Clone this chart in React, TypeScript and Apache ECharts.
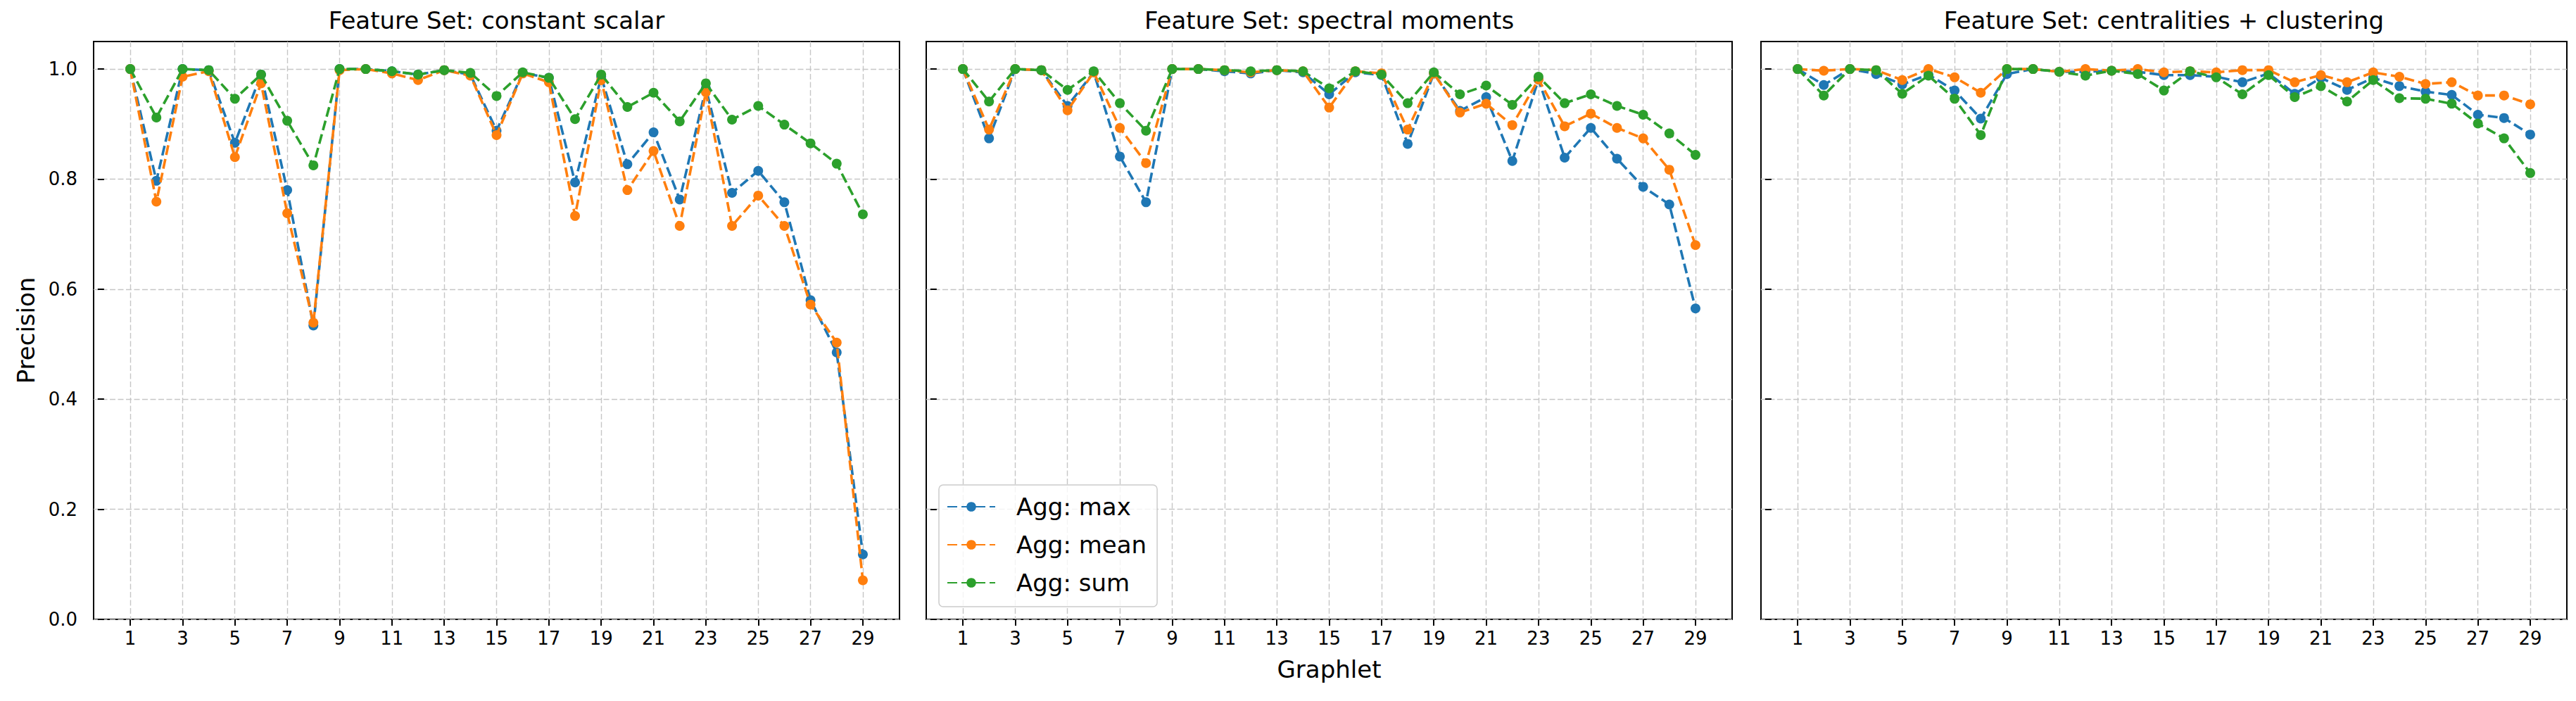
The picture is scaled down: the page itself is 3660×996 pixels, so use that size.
import React, { useEffect, useRef } from "react";
import * as echarts from "echarts";

const graphlets = [1, 2, 3, 4, 5, 6, 7, 8, 9, 10, 11, 12, 13, 14, 15, 16, 17, 18, 19, 20, 21, 22, 23, 24, 25, 26, 27, 28, 29];
const xTicks = [1, 3, 5, 7, 9, 11, 13, 15, 17, 19, 21, 23, 25, 27, 29];
const yTicks = [0, 0.2, 0.4, 0.6, 0.8, 1.0];

const panelTitles = [
  "Feature Set: constant scalar",
  "Feature Set: spectral moments",
  "Feature Set: centralities + clustering",
];
const aggNames = ["Agg: max", "Agg: mean", "Agg: sum"];
const aggColors = ["#1f77b4", "#ff7f0e", "#2ca02c"];

const constMax = [1.0, 0.797, 1.0, 0.998, 0.866, 0.99, 0.78, 0.534, 1.0, 1.0, 0.996, 0.99, 0.998, 0.99, 0.888, 0.993, 0.984, 0.794, 0.986, 0.827, 0.885, 0.763, 0.965, 0.775, 0.815, 0.758, 0.58, 0.485, 0.118];
const constMean = [1.0, 0.759, 0.986, 0.996, 0.84, 0.974, 0.738, 0.539, 0.998, 1.0, 0.992, 0.98, 0.998, 0.988, 0.88, 0.992, 0.976, 0.733, 0.98, 0.78, 0.851, 0.715, 0.958, 0.715, 0.77, 0.715, 0.572, 0.503, 0.071];
const constSum = [1.0, 0.912, 1.0, 0.998, 0.946, 0.99, 0.906, 0.825, 1.0, 1.0, 0.996, 0.99, 0.998, 0.993, 0.951, 0.994, 0.984, 0.909, 0.99, 0.931, 0.957, 0.905, 0.974, 0.908, 0.933, 0.899, 0.865, 0.828, 0.736];

const specMax = [1.0, 0.874, 1.0, 0.998, 0.933, 0.994, 0.841, 0.758, 1.0, 1.0, 0.996, 0.992, 0.998, 0.994, 0.954, 0.994, 0.989, 0.864, 0.992, 0.924, 0.949, 0.833, 0.981, 0.839, 0.893, 0.837, 0.786, 0.754, 0.565];
const specMean = [1.0, 0.89, 1.0, 0.998, 0.925, 0.994, 0.893, 0.829, 1.0, 1.0, 0.998, 0.994, 0.998, 0.996, 0.93, 0.996, 0.992, 0.89, 0.992, 0.921, 0.937, 0.898, 0.981, 0.896, 0.919, 0.893, 0.874, 0.817, 0.68];
const specSum = [1.0, 0.941, 1.0, 0.998, 0.962, 0.996, 0.938, 0.888, 1.0, 1.0, 0.998, 0.996, 0.998, 0.996, 0.965, 0.996, 0.99, 0.938, 0.994, 0.954, 0.97, 0.935, 0.986, 0.938, 0.954, 0.933, 0.917, 0.883, 0.844];

const centMax = [1.0, 0.971, 1.0, 0.991, 0.972, 0.99, 0.961, 0.91, 0.991, 1.0, 0.995, 0.995, 0.997, 0.995, 0.989, 0.989, 0.986, 0.976, 0.992, 0.955, 0.984, 0.962, 0.984, 0.969, 0.959, 0.953, 0.917, 0.911, 0.881];
const centMean = [1.0, 0.997, 1.0, 0.998, 0.98, 1.0, 0.985, 0.957, 1.0, 1.0, 0.995, 1.0, 0.997, 1.0, 0.994, 0.996, 0.994, 0.998, 0.998, 0.976, 0.989, 0.976, 0.994, 0.986, 0.973, 0.976, 0.952, 0.952, 0.936];
const centSum = [1.0, 0.952, 1.0, 0.998, 0.955, 0.988, 0.946, 0.88, 1.0, 1.0, 0.995, 0.988, 0.997, 0.991, 0.961, 0.996, 0.985, 0.954, 0.989, 0.949, 0.969, 0.941, 0.98, 0.947, 0.946, 0.937, 0.901, 0.874, 0.811];

const panelData = [
  [constMax, constMean, constSum],
  [specMax, specMean, specSum],
  [centMax, centMean, centSum],
];

const FONT = "DejaVu Sans";
const GRID_LEFTS = [133, 1316, 2502];
const GRID_W = 1145;
const GRID_TOP = 59;
const GRID_H = 821;

export default function App() {
  const ref = useRef<HTMLDivElement>(null);

  useEffect(() => {
    document.body.style.margin = "0";
    const chart = echarts.init(ref.current!, null, { renderer: "svg" });

    const grids = GRID_LEFTS.map((left) => ({
      left,
      top: GRID_TOP,
      width: GRID_W,
      height: GRID_H,
      show: true,
      borderColor: "#000",
      borderWidth: 2,
      backgroundColor: "transparent",
    }));

    const splitLine = {
      show: true,
      lineStyle: { color: "#c6c6c6", width: 1.4, type: [8, 3.5] as number[] },
    };

    const xAxes = GRID_LEFTS.map((_, i) => ({
      gridIndex: i,
      type: "value",
      min: -0.4,
      max: 30.4,
      name: i === 1 ? "Graphlet" : "",
      nameLocation: "middle",
      nameGap: 54,
      nameTextStyle: { fontSize: 34, fontFamily: FONT, color: "#000" },
      axisLine: { show: false },
      axisTick: {
        show: true,
        customValues: xTicks,
        length: 9,
        lineStyle: { color: "#000", width: 2 },
      },
      axisLabel: {
        customValues: xTicks,
        fontSize: 26,
        margin: 14,
        color: "#000",
        fontFamily: FONT,
      },
      splitLine,
    }));

    const yAxes = GRID_LEFTS.map((_, i) => ({
      gridIndex: i,
      type: "value",
      min: 0,
      max: 1.05,
      name: i === 0 ? "Precision" : "",
      nameLocation: "middle",
      nameRotate: 90,
      nameGap: 79,
      nameTextStyle: { fontSize: 34, fontFamily: FONT, color: "#000" },
      axisLine: { show: false },
      axisTick: {
        show: true,
        customValues: yTicks,
        length: 9,
        lineStyle: { color: "#000", width: 2 },
      },
      axisLabel: {
        show: i === 0,
        customValues: yTicks,
        fontSize: 26,
        margin: 23,
        color: "#000",
        fontFamily: FONT,
        formatter: (v: number) => v.toFixed(1),
      },
      splitLine,
    }));

    const series: any[] = [];
    panelData.forEach((sets, p) => {
      sets.forEach((vals, k) => {
        series.push({
          type: "line",
          name: aggNames[k],
          xAxisIndex: p,
          yAxisIndex: p,
          data: graphlets.map((g, j) => [g, vals[j]]),
          symbol: "circle",
          symbolSize: 14,
          showSymbol: true,
          itemStyle: { color: aggColors[k], borderWidth: 0 },
          lineStyle: { color: aggColors[k], width: 3.6, type: [14, 6] },
          z: 2 + k,
        });
      });
    });

    const graphic = GRID_LEFTS.map((left, i) => ({
      type: "text",
      x: left + GRID_W / 2,
      y: 29,
      style: {
        text: panelTitles[i],
        fontSize: 34,
        fontFamily: FONT,
        fill: "#000",
        align: "center",
        verticalAlign: "middle",
      },
    }));

    chart.setOption({
      animation: false,
      backgroundColor: "#fff",
      grid: grids,
      xAxis: xAxes,
      yAxis: yAxes,
      series,
      graphic,
      legend: {
        data: aggNames,
        orient: "vertical",
        left: 1334,
        top: 689,
        padding: [14, 15, 17, 11],
        itemWidth: 68,
        itemHeight: 17,
        itemGap: 20,
        backgroundColor: "rgba(255,255,255,0.8)",
        borderColor: "#cccccc",
        borderWidth: 1.5,
        borderRadius: 6,
        selectedMode: false,
        textStyle: {
          fontSize: 34,
          fontFamily: FONT,
          color: "#000",
          lineHeight: 34,
          padding: [0, 0, 0, 25],
        },
      },
    });

    return () => chart.dispose();
  }, []);

  return (
    <div
      ref={ref}
      style={{ position: "absolute", left: 0, top: 0, width: 3660, height: 996 }}
    />
  );
}
